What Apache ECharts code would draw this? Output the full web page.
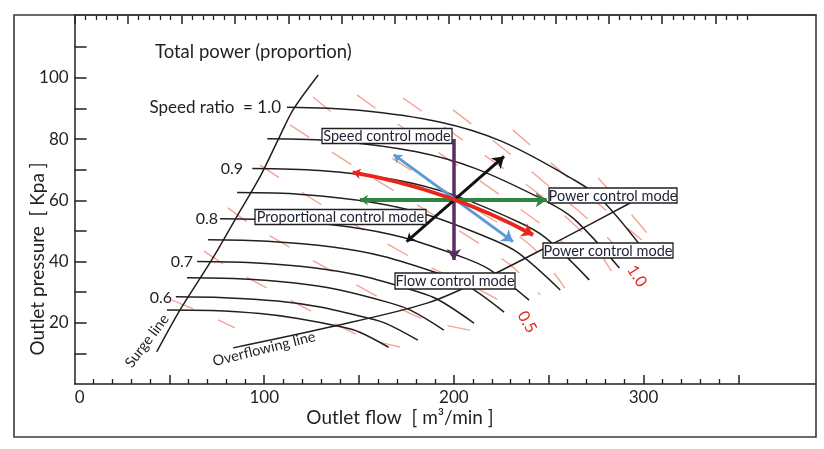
<!DOCTYPE html>
<html>
<head>
<meta charset="utf-8">
<script src="https://cdn.jsdelivr.net/npm/echarts@6/dist/echarts.min.js"></script>
<style>
html,body{margin:0;padding:0;background:#fff;}
#chart{width:824px;height:449px;}
</style>
</head>
<body>
<div id="chart"></div>
<script>
// ---------- axis tick / label values ----------
const xLabelValues = [0, 100, 200, 300];
const xMajorTicks = [50, 100, 150, 200, 250, 300, 350];
const xMinorTicks = [10,20,30,40,60,70,80,90,110,120,130,140,160,170,180,190,210,220,230,240,260,270,280,290,310,320,330,340];
const yLabelValues = [20, 40, 60, 80, 100];
const yTicks = [10, 20, 30, 40, 50, 60, 70, 80, 90, 100, 110];
const topMajorTicks = [0, 5, 10, 15, 20, 25, 30, 35, 40, 45, 50, 55, 60];
const topMinorTicks = [];
for (let i = 1; i <= 63; i++) { if (i % 5 !== 0) topMinorTicks.push(i); }

// ---------- speed-ratio curves [flow m3/min, pressure kPa] ----------
const speedLabels = ['1.0', '0.9', '0.8', '0.7', '0.6'];
const curve100 = [[112,90.4],[150,89.4],[193,85.5],[225,79.3],[263,66.8],[278,60.2],[303,41.5]];
const curve095 = [[101.6,80.1],[138.7,79.3],[179.6,75.9],[211.2,70.4],[248.3,59.8],[263.2,54.0],[287.3,37.9]];
const curve090 = [[93.7,70.4],[129.2,69.7],[168.3,66.8],[198.5,62.0],[234.1,52.9],[248.3,47.8],[271.4,34.0]];
const curve085 = [[85.7,62.5],[119.8,61.9],[157.3,59.3],[186.2,55.2],[220.3,47.2],[234.0,42.8],[256.1,30.7]];
const curve080 = [[76.7,54.0],[109.3,53.5],[145.2,51.3],[172.9,47.9],[205.5,41.2],[218.5,37.5],[239.7,27.4]];
const curve075 = [[70.4,47.1],[101.6,46.6],[136.0,44.7],[162.5,41.7],[193.7,35.7],[206.2,32.5],[226.5,23.5]];
const curve070 = [[64.6,40.0],[93.8,39.6],[125.9,38.0],[150.7,35.4],[180.0,30.3],[191.6,27.6],[210.6,19.9]];
const curve065 = [[59.3,34.7],[86.4,34.4],[116.2,33.0],[139.2,30.8],[166.3,26.5],[177.1,24.1],[194.7,17.6]];
const curve060 = [[53.4,28.5],[78.9,28.2],[107.0,27.1],[128.7,25.2],[154.2,21.6],[164.4,19.7],[181.0,14.3]];
const curve055 = [[48.7,24.2],[72.1,24.0],[97.8,23.0],[117.7,21.4],[141.1,18.6],[150.4,16.9],[165.6,12.0]];

// ---------- surge and overflowing lines ----------
const surgeLine = [[43.3,10.5],[55.6,24.2],[72.3,40.5],[85.5,54.6],[97.8,67.7],[107.3,79.7],[115.2,89.5],[128.5,100.9]];
const overflowLine = [[83.6,11.8],[134.7,18.6],[185.9,26.4],[219.1,35.3],[256.0,47.0],[293.0,59.1]];

// ---------- total-power (proportion) dashed lines ----------
const power0 = [[51.4,27.4],[68.8,22.9],[84.6,18.3]];
const power1 = [[68.2,43.4],[82.0,37.9],[113.6,27.4],[152.1,15.3],[171.6,12.1]];
const power2 = [[80.9,57.5],[93.6,51.9],[134.7,37.2],[182.2,21.6],[208.5,17.6]];
const power3 = [[97.8,71.5],[134.7,56.8],[182.2,39.8],[213.8,30.7],[230.7,24.8]];
const power4 = [[113.6,84.6],[150.5,69.9],[198.0,51.9],[229.7,38.9],[245.5,29.1]];
const power5 = [[125.7,93.7],[161.1,76.4],[203.3,60.1],[240.2,45.4],[258.6,31.3]];
const power6 = [[148.9,94.4],[182.2,79.7],[224.4,61.7],[256.0,47.0],[271.8,34.0]];
const power7 = [[173.2,93.4],[208.5,78.0],[245.5,61.7],[271.8,47.0],[283.4,36.6]];
const power8 = [[199.6,89.5],[227.0,76.4],[250.8,64.3],[277.1,50.3],[291.9,40.5]];
const power9 = [[231.2,82.9],[262.8,66.0],[287.6,52.9],[299.2,47.0]];
const power10 = [[276.1,67.3],[293.0,55.8],[306.2,46.0]];
const powerLabels = ['1.0', '0.5'];

// ---------- control-mode arrows ----------
const arrowPurple = [[200, 80.0], [200, 40.5]];
const arrowGreen = [[150.5, 60.1], [249.0, 60.1]];
const arrowBlue = [[168.3, 74.9], [231.2, 46.5]];
const arrowBlack = [[175.1, 46.5], [226.5, 74.3]];
const arrowRed = [[146.6, 69.1], [241.8, 48.7]];

const modeLabels = ['Speed control mode', 'Power control mode', 'Proportional control mode', 'Power control mode', 'Flow control mode'];

// ---------- chart ----------
const FONT = 'Lato';
const INK = '#231f20';
const chart = echarts.init(document.getElementById('chart'), null, {renderer: 'canvas'});

const speedCurves = [curve100, curve095, curve090, curve085, curve080, curve075, curve070, curve065, curve060, curve055];
const powerCurves = [power0, power1, power2, power3, power4, power5, power6, power7, power8, power9, power10];

const series = [];
powerCurves.forEach(function (d) {
  series.push({type: 'line', data: d, smooth: 0.3, showSymbol: false, silent: true, z: 1,
    lineStyle: {color: '#f4a394', width: 1.4, type: [23, 27]}});
});
speedCurves.forEach(function (d) {
  series.push({type: 'line', data: d, smooth: 0.35, showSymbol: false, silent: true, z: 2,
    lineStyle: {color: INK, width: 1.5}});
});
series.push({type: 'line', data: surgeLine, smooth: 0.3, showSymbol: false, silent: true, z: 2, lineStyle: {color: INK, width: 1.5}});
series.push({type: 'line', data: overflowLine, smooth: 0.3, showSymbol: false, silent: true, z: 2, lineStyle: {color: INK, width: 1.5}});

function arrow(coords, color, width, curveness, symbols) {
  return {type: 'lines', coordinateSystem: 'cartesian2d', silent: true, z: 4,
    symbol: symbols || ['arrow', 'arrow'], symbolSize: [8, 11],
    lineStyle: {color: color, width: width, opacity: 1, curveness: curveness || 0},
    data: [{coords: coords}]};
}
series.push(arrow(arrowPurple, '#5a2d62', 3.5, 0, ['none', 'arrow']));
series.push(arrow(arrowGreen, '#2e8540', 4, 0));
series.push(arrow(arrowBlue, '#5b9bd5', 3, 0));
series.push(arrow(arrowBlack, '#111111', 3, 0));
series.push(arrow(arrowRed, '#e8261c', 4, 0.08));

function txt(text, x, y, opts) {
  const o = opts || {};
  return {type: 'text', x: x, y: y, rotation: o.rotation || 0, z: 20, silent: true,
    style: {text: text, fill: o.color || INK, font: (o.size || 15) + 'px ' + FONT,
      align: o.align || 'left', verticalAlign: 'middle'}};
}
function box(text, cx, cy, w, h) {
  return {type: 'group', z: 20, silent: true, children: [
    {type: 'rect', shape: {x: cx - w / 2, y: cy - h / 2, width: w, height: h}, z: 20,
      style: {fill: '#fff', stroke: INK, lineWidth: 1.3}},
    {type: 'text', x: cx, y: cy + 0.5, z: 21,
      style: {text: text, fill: '#1c2233', font: '14.5px ' + FONT, align: 'center', verticalAlign: 'middle'}}
  ]};
}

const option = {
  animation: false,
  backgroundColor: '#fff',
  grid: {left: 74.6, right: 8, top: 15, bottom: 65, containLabel: false},
  xAxis: [
    {type: 'value', min: 0, max: 391, position: 'bottom',
      axisLine: {show: true, lineStyle: {color: INK, width: 1.5}},
      axisTick: {show: true, inside: true, length: 9, customValues: xMajorTicks, lineStyle: {color: INK, width: 1.5}},
      axisLabel: {show: true, customValues: xLabelValues, color: INK, fontSize: 17, fontFamily: FONT, margin: 5,
        formatter: function (v) { return v === 0 ? '{z|0}' : String(v); },
        rich: {z: {padding: [0, 0, 0, 10], fontSize: 17, fontFamily: FONT, color: INK}}},
      splitLine: {show: false}},
    {type: 'value', min: 0, max: 391, position: 'bottom',
      axisLine: {show: false},
      axisTick: {show: true, inside: true, length: 5, customValues: xMinorTicks, lineStyle: {color: INK, width: 1.3}},
      axisLabel: {show: false}, splitLine: {show: false}},
    {type: 'value', min: 0, max: 69.4, position: 'top',
      axisLine: {show: true, lineStyle: {color: INK, width: 1.5}},
      axisTick: {show: true, inside: true, length: 9, customValues: topMajorTicks, lineStyle: {color: INK, width: 1.5}},
      axisLabel: {show: false}, splitLine: {show: false}},
    {type: 'value', min: 0, max: 69.4, position: 'top',
      axisLine: {show: false},
      axisTick: {show: true, inside: true, length: 5, customValues: topMinorTicks, lineStyle: {color: INK, width: 1.3}},
      axisLabel: {show: false}, splitLine: {show: false}}
  ],
  yAxis: [
    {type: 'value', min: 0, max: 120.5, position: 'left',
      axisLine: {show: true, lineStyle: {color: INK, width: 1.5}},
      axisTick: {show: true, inside: true, length: 12, customValues: yTicks, lineStyle: {color: INK, width: 1.5}},
      axisLabel: {show: true, customValues: yLabelValues, color: INK, fontSize: 17, fontFamily: FONT, margin: 6},
      splitLine: {show: false}}
  ],
  series: series,
  graphic: {elements: [
    {type: 'rect', shape: {x: 14, y: 15, width: 802, height: 422}, z: 30, silent: true,
      style: {fill: 'none', stroke: '#3a3a3a', lineWidth: 1.6}},
    txt('Outlet flow  [ m\u00b3/min ]', 400, 418, {size: 19, align: 'center'}),
    txt('Outlet pressure  [ Kpa ]', 38, 259, {size: 19, align: 'center', rotation: Math.PI / 2}),
    txt('Total power (proportion)', 155, 52, {size: 18.5}),
    txt('Speed ratio  = ' + speedLabels[0], 281, 108, {size: 17, align: 'right'}),
    txt(speedLabels[1], 243, 169, {size: 16, align: 'right'}),
    txt(speedLabels[2], 218, 219, {size: 16, align: 'right'}),
    txt(speedLabels[3], 193, 262, {size: 16, align: 'right'}),
    txt(speedLabels[4], 172, 298, {size: 16, align: 'right'}),
    txt('Surge line', 147, 341, {size: 14.5, align: 'center', rotation: 53 * Math.PI / 180}),
    txt('Overflowing line', 264, 349, {size: 14.5, align: 'center', rotation: 14 * Math.PI / 180}),
    txt(powerLabels[0], 637, 276, {size: 16, align: 'center', color: '#e8261c', rotation: -57 * Math.PI / 180}),
    txt(powerLabels[1], 527, 322, {size: 16, align: 'center', color: '#e8261c', rotation: -60 * Math.PI / 180}),
    box(modeLabels[0], 387, 136, 130, 15),
    box(modeLabels[1], 613, 195.5, 128, 15),
    box(modeLabels[2], 340.5, 217, 171, 15),
    box(modeLabels[3], 608, 250.5, 130, 15),
    box(modeLabels[4], 455, 281, 120, 16)
  ]}
};
chart.setOption(option);
</script>
</body>
</html>
